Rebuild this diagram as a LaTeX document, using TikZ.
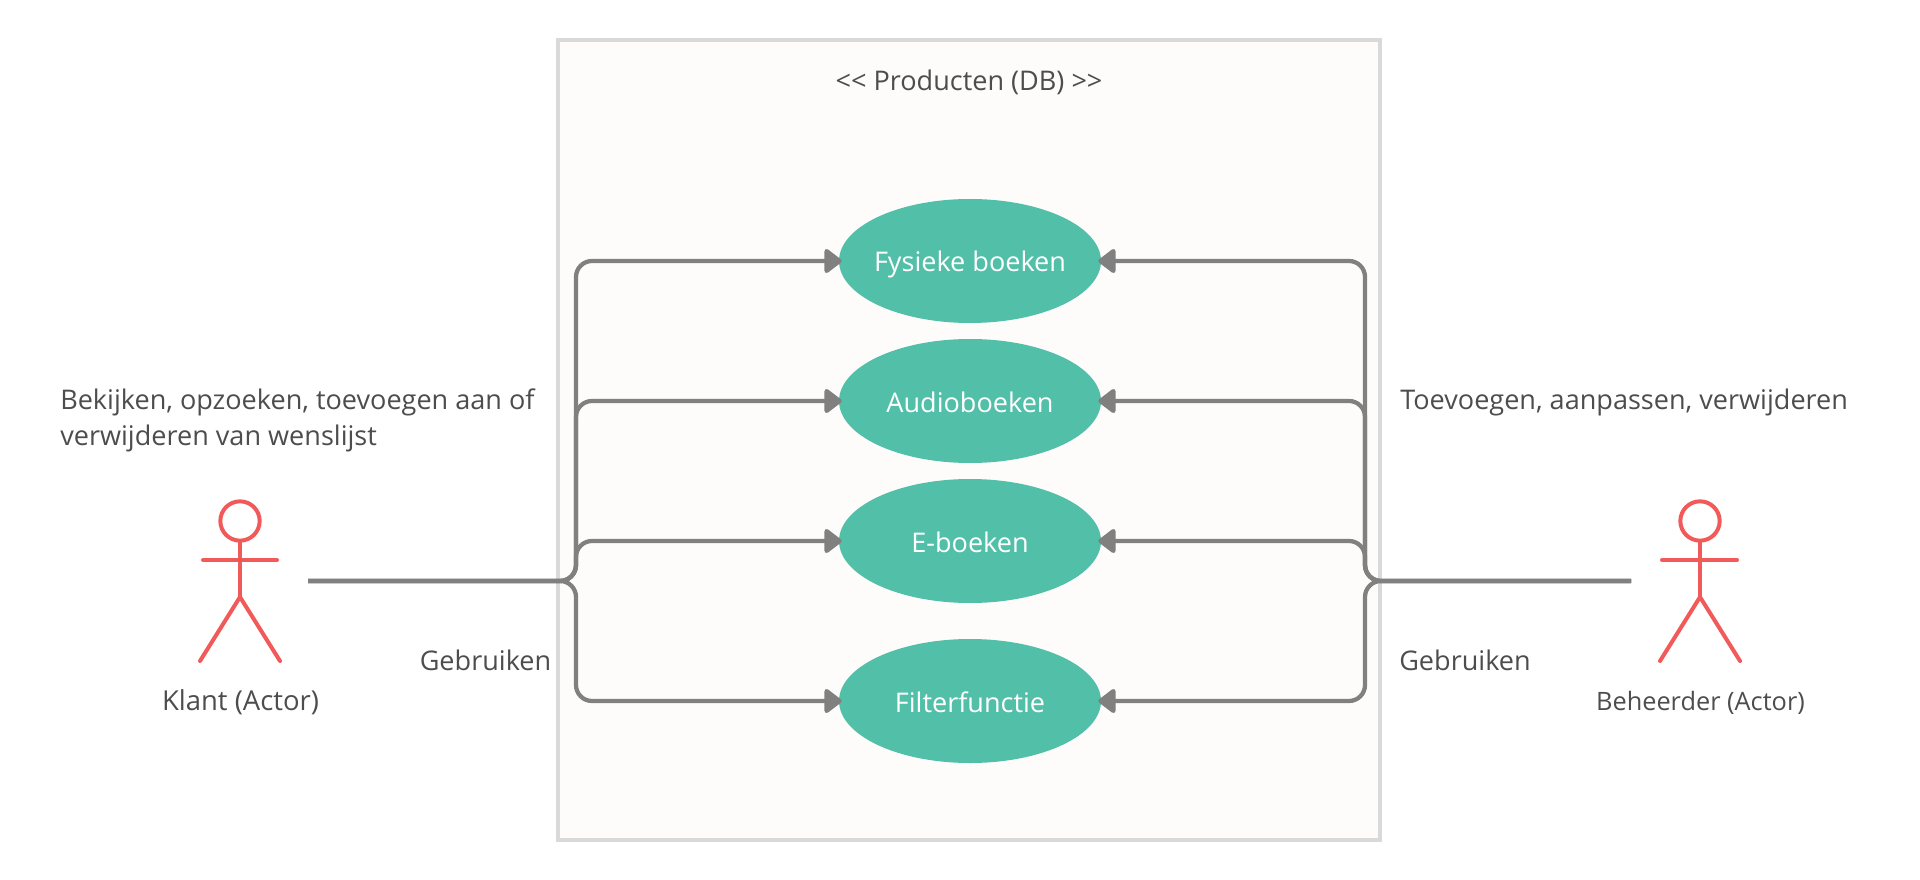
\documentclass[tikz,border=0pt]{standalone}
\usepackage{fontspec}
\setmainfont{Open Sans}
\usetikzlibrary{arrows.meta}
\usetikzlibrary{shapes.geometric}
\definecolor{inktgrey}{HTML}{4D4D4D}
\definecolor{lijngrey}{HTML}{808080}
\definecolor{actorred}{HTML}{F25A5A}
\definecolor{usecase}{HTML}{52BFA9}
\definecolor{dbfill}{HTML}{FDFCFA}
\definecolor{dbline}{HTML}{D9D9D9}
\tikzset{
  label/.style={anchor=base, text=inktgrey, inner sep=0pt, font=\fontsize{20.3}{27}\selectfont},
  case/.style={ellipse, fill=usecase, text=white, inner xsep=-4pt, inner ysep=0pt, outer sep=0pt, minimum width=196.5pt, minimum height=93pt, text height=16.5pt, text depth=0pt, font=\fontsize{20.3}{27}\selectfont},
  conn/.style={draw=lijngrey, line width=3.2pt, rounded corners=12pt, shorten >=-2pt, -{Triangle[round, length=14pt, width=20.5pt]}},
  actor/.style={draw=actorred, line width=3pt, line cap=round},
  head/.style={circle, draw=actorred, line width=3pt, inner sep=0pt, minimum size=29.5pt}
}

\begin{document}
\begin{tikzpicture}[x=0.75pt, y=-0.75pt]
    \path[use as bounding box] (0, 0) rectangle (1920, 880);

    \node[draw=dbline, line width=3.2pt, fill=dbfill, inner sep=0pt, minimum width=616.5pt, minimum height=600pt] at (969, 440) (DB) {};
    \node[label] at (969, 90.5) (title) {<\kern0pt< Producten (DB) >\kern0pt>};

    \node[case] at (970, 261) (F) {Fysieke boeken};
    \node[case] at (970, 401) (A) {Audioboeken};
    \node[case] at (970, 541) (E) {E-boeken};
    \node[case] at (970, 701) (L) {Filterfunctie};

    % klant
    \node[head] at (240, 521) (KH) {};
    \coordinate (KB) at (240, 597);
    \coordinate (KA1) at (203, 560);
    \coordinate (KA2) at (277, 560);
    \coordinate (KL1) at (200, 661);
    \coordinate (KL2) at (280, 661);
    \draw[actor] (KH) -- (KB);
    \draw[actor] (KA1) -- (KA2);
    \draw[actor] (KL1) -- (KB) -- (KL2);
    \node[label, font=\fontsize{20.6}{27}\selectfont] at (240.5, 710.5) (klant) {Klant (Actor)};
    \node[label, anchor=base west, align=left] at (60, 445.5) (wens) {Bekijken, opzoeken, toevoegen aan of\\verwijderen van wenslijst};
    \node[label] at (485.5, 670.5) (gl) {Gebruiken};

    % beheerder
    \node[head] at (1700, 521) (BH) {};
    \coordinate (BB) at (1700, 597);
    \coordinate (BA1) at (1662, 560);
    \coordinate (BA2) at (1737, 560);
    \coordinate (BL1) at (1660, 661);
    \coordinate (BL2) at (1740, 661);
    \draw[actor] (BH) -- (BB);
    \draw[actor] (BA1) -- (BA2);
    \draw[actor] (BL1) -- (BB) -- (BL2);
    \node[label, font=\fontsize{19}{27}\selectfont] at (1700.5, 710) (beheer) {Beheerder (Actor)};
    \node[label, anchor=base west] at (1400, 410) (toe) {Toevoegen, aanpassen, verwijderen};
    \node[label] at (1465, 670.5) (gr) {Gebruiken};

    \coordinate (kp) at (308, 581);
    \coordinate (bp) at (1631, 581);
    \coordinate (kb) at (576, 581);
    \coordinate (bb) at (1365, 581);

    \foreach \n in {F,A,E,L} {
      \draw[conn] (kp) -- (kb) |- (\n);
      \draw[conn] (bp) -- (bb) |- (\n);
    }
\end{tikzpicture}
\end{document}
